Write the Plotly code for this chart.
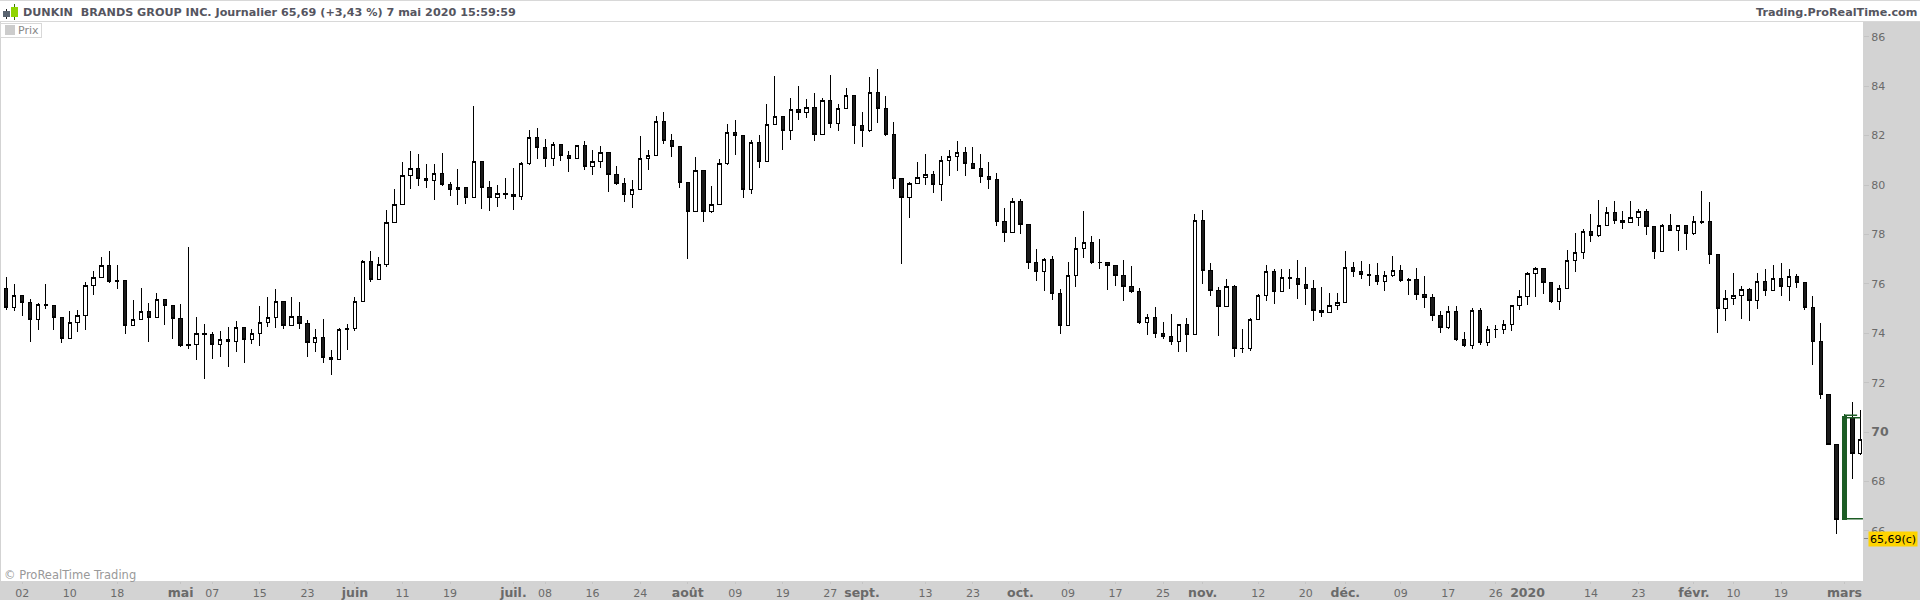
import plotly.graph_objects as go

opens = [75.82,75.05,75.53,75.25,74.56,75.17,75.13,74.64,73.79,74.44,
74.72,75.94,76.26,76.75,76.14,76.14,74.32,74.56,74.89,74.64,
75.37,75.13,74.60,73.55,73.55,74.00,73.95,73.55,73.75,73.67,
74.24,73.75,74.00,74.44,74.64,75.29,74.32,74.68,74.40,73.63,
73.83,73.02,72.94,74.20,74.20,75.29,76.91,76.18,76.79,78.49,
79.22,80.39,80.68,80.27,80.19,80.47,80.03,79.83,79.91,79.50,
80.96,79.91,79.50,79.67,79.62,79.54,80.88,81.93,81.53,81.08,
81.65,81.20,81.08,81.61,80.76,80.96,81.33,80.43,80.07,79.62,
79.83,81.08,81.20,82.58,81.81,81.57,80.11,78.94,80.60,78.94,
79.22,80.88,82.14,82.01,79.83,81.73,80.96,82.46,82.78,82.20,
83.06,82.94,83.14,82.05,83.43,82.49,83.10,83.63,82.41,82.21,
83.75,83.10,82.05,80.27,79.50,80.06,80.31,80.43,80.03,81.00,
81.16,81.32,80.88,80.67,80.35,80.23,78.53,78.09,79.34,78.41,
76.87,76.51,76.99,75.62,74.32,76.34,77.44,77.68,76.88,76.87,
76.75,76.34,75.90,75.70,74.44,74.64,74.00,73.87,73.67,74.36,
73.95,78.57,76.55,75.74,75.09,75.90,73.40,73.39,74.56,75.53,
76.51,75.70,76.26,76.22,75.98,75.82,74.93,74.85,75.13,75.25,
76.67,76.51,76.38,76.34,76.10,76.34,76.54,76.18,76.18,75.57,
75.45,74.72,74.23,74.88,73.75,73.50,74.92,73.63,74.17,74.15,
74.35,75.12,75.49,76.42,76.62,76.06,75.29,75.81,76.95,77.27,
78.12,77.96,78.36,78.89,78.57,78.49,78.69,78.93,78.32,77.31,
78.36,78.16,78.36,78.04,78.53,78.53,77.19,75.01,75.41,75.53,
75.78,75.33,76.10,75.74,76.22,75.90,76.30,76.06,75.05,73.67,
71.53,69.50,66.47,70.60,69.14]

highs = [76.28,75.99,75.53,75.37,75.21,75.99,75.13,74.64,74.90,74.94,
76.06,76.51,77.07,77.33,76.76,76.14,75.34,75.82,75.21,75.61,
75.37,75.13,75.17,77.48,74.64,74.36,74.04,74.08,74.24,74.48,
74.24,74.16,75.09,75.45,75.78,75.29,75.45,75.25,74.52,74.16,
74.56,73.31,74.20,74.36,75.45,76.95,77.32,77.07,78.98,79.83,
80.92,81.37,81.24,80.84,80.84,81.28,80.11,80.64,79.91,83.20,
80.96,80.15,79.99,80.27,80.68,80.92,82.22,82.30,81.85,81.73,
81.65,81.37,81.61,81.77,81.41,81.57,81.33,80.76,80.27,80.19,
81.97,81.41,82.78,82.95,82.05,81.57,80.11,81.12,80.60,79.95,
81.04,82.46,82.62,82.01,81.81,82.01,83.27,84.40,82.78,83.51,
83.99,83.47,83.71,83.51,84.44,83.30,83.91,83.63,82.94,84.36,
84.68,83.59,82.54,80.27,80.11,80.92,81.24,80.55,81.16,81.40,
81.77,81.56,81.56,81.24,80.92,80.47,79.06,79.46,79.42,78.41,
77.40,77.03,77.11,75.78,76.87,77.88,78.94,77.92,77.80,76.87,
76.75,76.95,76.71,75.82,74.77,75.05,74.44,74.77,74.36,74.60,
78.81,78.98,76.83,75.86,76.18,75.94,74.16,74.60,75.57,76.75,
76.59,76.59,76.59,76.95,76.67,76.14,75.86,75.62,75.62,77.32,
76.87,76.91,76.79,76.83,76.50,77.11,76.78,76.22,76.66,76.30,
75.57,74.92,75.12,75.12,74.07,75.04,75.04,74.31,74.35,74.52,
75.16,75.77,76.46,76.70,76.62,76.06,75.97,77.39,78.04,78.24,
78.81,79.38,79.13,79.34,78.93,79.34,79.01,79.01,78.32,78.44,
78.81,78.40,78.40,78.73,79.74,79.30,77.19,75.74,76.43,75.90,
75.82,76.43,76.59,76.75,76.83,76.59,76.38,76.06,75.49,74.40,
71.53,69.50,70.72,71.20,70.88]

lows = [74.95,74.91,74.71,73.66,74.14,74.99,74.14,73.62,73.79,74.06,
74.14,75.56,76.26,76.05,75.80,73.98,74.32,74.56,73.66,74.64,
74.35,73.78,73.46,73.37,72.93,72.16,72.97,73.05,72.64,73.25,
72.81,73.58,73.50,74.26,74.22,74.18,74.32,74.18,73.05,73.25,
72.81,72.32,72.94,73.33,74.10,75.29,76.09,76.18,76.69,78.49,
79.22,79.85,79.98,79.89,79.41,79.98,79.57,79.21,79.25,79.50,
79.04,78.96,79.13,79.45,79.00,79.41,80.83,81.07,80.74,80.79,
80.99,80.54,81.08,80.62,80.42,80.70,79.73,80.02,79.33,79.08,
79.83,80.60,81.20,81.68,81.15,79.89,77.02,78.90,78.52,78.85,
79.22,80.83,81.23,79.49,79.65,80.70,80.96,82.46,81.43,81.83,
82.64,82.72,81.79,82.05,82.32,82.20,83.10,81.67,81.55,82.13,
82.52,81.97,79.85,76.81,78.68,80.06,80.01,79.69,79.36,80.38,
80.58,80.38,80.63,80.09,79.85,78.35,77.68,78.09,78.03,76.61,
76.13,75.72,75.36,73.98,74.32,75.88,77.06,76.82,76.61,75.76,
75.93,75.32,75.64,74.39,73.94,73.82,73.78,73.54,73.25,73.25,
73.95,76.01,75.52,73.90,75.09,73.05,73.21,73.27,74.56,75.32,
75.20,75.70,75.80,75.40,75.16,74.51,74.67,74.85,74.95,75.25,
76.29,76.21,75.93,75.97,75.72,76.26,76.08,75.56,75.35,75.03,
74.50,74.02,74.19,73.69,73.45,73.37,73.54,73.50,73.79,73.95,
74.11,74.96,75.16,75.45,75.60,75.23,74.95,75.81,76.49,77.01,
77.68,77.88,78.36,78.43,78.24,78.49,78.36,77.99,76.99,77.31,
78.12,77.31,77.35,77.96,78.44,76.82,74.00,74.51,75.16,74.59,
74.48,74.97,75.49,75.74,75.49,75.29,75.82,74.93,72.70,71.32,
69.46,65.86,66.47,68.09,69.06]

closes = [75.03,75.53,75.24,74.56,75.17,75.12,74.63,73.78,74.44,74.72,
75.94,76.26,76.75,76.09,76.09,74.31,74.56,74.89,74.63,75.37,
75.12,74.59,73.50,73.50,74.00,73.94,73.55,73.75,73.67,74.24,
73.75,74.00,74.44,74.64,75.29,74.32,74.68,74.40,73.62,73.83,
73.01,72.94,74.16,74.16,75.29,76.91,76.17,76.79,78.49,79.22,
80.39,80.68,80.27,80.19,80.47,80.02,79.83,79.91,79.50,80.96,
79.91,79.50,79.67,79.61,79.54,80.88,81.93,81.53,81.08,81.65,
81.20,81.08,81.61,80.74,80.96,81.33,80.43,80.07,79.62,79.83,
81.08,81.20,82.58,81.81,81.57,80.11,78.94,80.60,78.94,79.22,
80.88,82.14,82.01,79.83,81.73,80.96,82.46,82.78,82.20,83.06,
82.94,83.14,82.05,83.43,82.49,83.10,83.63,82.41,82.21,83.75,
83.10,82.05,80.27,79.50,80.06,80.31,80.43,80.03,81.00,81.16,
81.32,80.88,80.67,80.35,80.23,78.51,78.09,79.34,78.41,76.87,
76.51,76.99,75.60,74.32,76.34,77.44,77.68,76.86,76.86,76.75,
76.34,75.90,75.70,74.44,74.64,74.00,73.86,73.66,74.36,73.95,
78.57,76.55,75.74,75.09,75.90,73.39,73.37,74.56,75.53,76.51,
75.70,76.26,76.22,75.98,75.82,74.93,74.85,75.13,75.25,76.67,
76.51,76.38,76.33,76.10,76.34,76.54,76.14,76.14,75.56,75.45,
74.72,74.23,74.88,73.73,73.50,74.92,73.63,74.15,74.14,74.35,
75.12,75.49,76.42,76.62,76.06,75.27,75.81,76.95,77.27,78.12,
77.96,78.36,78.89,78.57,78.49,78.69,78.93,78.32,77.31,78.36,
78.16,78.36,78.04,78.53,78.49,77.19,75.01,75.41,75.53,75.78,
75.33,76.10,75.74,76.22,75.90,76.30,76.06,75.05,73.67,71.53,
69.50,66.47,70.64,69.14,69.71]

candle_index = list(range(len(opens)))

tick_index = [2,8,14,22,26,32,38,44,50,56,64,68,74,80,86,92,98,104,108,116,122,128,134,140,146,151,158,164,169,176,182,188,192,200,206,213,218,224,232]
tick_names = ["02","10","18","mai","07","15","23","juin","11","19","juil.","08","16","24","août","09","19","27","sept.","13","23","oct.","09","17","25","nov.","12","20","déc.","09","17","26","2020","14","23","févr.","10","19","mars"]
price_ticks = [66,68,70,72,74,76,78,80,82,84,86]
price_names = ["66","68","70","72","74","76","78","80","82","84","86"]

last_price_label = "65,69(c)"
last_price = 65.69
title_left = "DUNKIN\u00a0\u00a0BRANDS GROUP INC. Journalier 65,69 (+3,43 %) 7 mai 2020 15:59:59"
title_right = "Trading.ProRealTime.com"
legend_label = "Prix"
credit = "© ProRealTime Trading"

highlight_index = 232
highlight_levels = [(231.75, 234.0, 70.58), (232.0, 233.6, 70.68), (231.75, 234.33, 66.49)]

W, H = 1920, 600
ML, MR, MT, MB = 1, 57, 22, 19
PW, PH = W - ML - MR, H - MT - MB
BAND = "#d3d3d3"
GREEN = "#1c5c24"
FONT = "DejaVu Sans"


def big_bold(t):
    return f'<span style="font-size:12.5px"><b>{t}</b></span>'


tick_labels = [big_bold(t) if t[0].isalpha() or t == "2020" else t for t in tick_names]
price_labels = [big_bold(t) if t == "70" else t for t in price_names]


def px(x):
    return (x - ML) / PW


def py(y):
    return 1 - (y - MT) / PH


def rect(x0, y0, x1, y1, color):
    return dict(type="rect", xref="paper", yref="paper", x0=px(x0), x1=px(x1), y0=py(y0), y1=py(y1),
                fillcolor=color, line_width=0, layer="above")


def label(x, y, text, size, color, anchor="left", bold=False):
    t = f"<b>{text}</b>" if bold else text
    return dict(x=px(x), y=py(y), xref="paper", yref="paper", text=t, showarrow=False, xanchor=anchor,
                yanchor="middle", font=dict(family=FONT, size=size, color=color))


fig = go.Figure()
fig.add_trace(go.Candlestick(
    x=candle_index, open=opens, high=highs, low=lows, close=closes,
    increasing=dict(line=dict(color="#000000", width=1), fillcolor="#ffffff"),
    decreasing=dict(line=dict(color="#000000", width=1), fillcolor="#1a1a1a"),
    whiskerwidth=0, showlegend=False, hoverinfo="skip",
))
i = highlight_index
fig.add_trace(go.Candlestick(
    x=[i], open=[opens[i]], high=[highs[i]], low=[lows[i]], close=[closes[i]],
    increasing=dict(line=dict(color=GREEN, width=1), fillcolor=GREEN),
    decreasing=dict(line=dict(color=GREEN, width=1), fillcolor=GREEN),
    whiskerwidth=0, showlegend=False, hoverinfo="skip",
))
for x0, x1, level in highlight_levels:
    fig.add_trace(go.Scatter(x=[x0, x1], y=[level, level], mode="lines",
                             line=dict(color=GREEN, width=1.5), showlegend=False, hoverinfo="skip"))

shapes = [
    rect(0, 0, W, 22, "#ffffff"),
    rect(0, 0, W, 1, "#d8d8d8"),
    rect(0, 21, W, 22, "#d8d8d8"),
    rect(0, 23, 42, 38, "#d8d8d8"),
    rect(1, 24, 41, 37, "#ffffff"),
    rect(5, 25, 15, 35, "#cccccc"),
    rect(6, 9, 7, 19, "#222222"),
    rect(3, 11, 10, 17, "#5a6470"),
    rect(14, 4, 15, 20, "#3c7a00"),
    rect(11, 7, 18, 17, "#8fd400"),
    dict(type="line", xref="paper", yref="y", x0=1.0005, x1=1.0027, y0=last_price, y1=last_price,
         line=dict(color="#888888", width=1), layer="above"),
]

annotations = [
    label(21, 12, title_left, 11.2, "#555560", bold=True),
    label(1919, 12, title_right, 11.2, "#555560", anchor="right", bold=True),
    label(16, 30.5, legend_label, 11, "#888888"),
    label(2, 575, credit, 11.5, "#999999"),
    dict(x=px(1893), y=py(539), xref="paper", yref="paper", text=last_price_label, showarrow=False,
         xanchor="center", yanchor="middle", font=dict(family=FONT, size=11, color="#000000"),
         bgcolor="#ffd400", width=48, height=14, borderpad=0),
]

fig.update_layout(
    width=W, height=H, autosize=False,
    margin=dict(l=ML, r=MR, t=MT, b=MB, pad=0),
    paper_bgcolor=BAND, plot_bgcolor="#ffffff",
    showlegend=False, shapes=shapes, annotations=annotations,
    boxgap=0.4, boxmode="overlay",
    font=dict(family=FONT, size=11, color="#6a6a6a"),
    xaxis=dict(range=[-0.67, 234.34], rangeslider=dict(visible=False), tickmode="array",
               tickvals=tick_index, ticktext=tick_labels, ticks="outside", ticklen=2, tickcolor="#c4c4c4",
               tickfont=dict(family=FONT, size=11, color="#6a6a6a"), showgrid=False, zeroline=False, showline=False),
    yaxis=dict(range=[63.97, 86.60], side="right", tickmode="array", tickvals=price_ticks, ticktext=price_labels,
               ticks="outside", ticklen=5, tickcolor="#c4c4c4",
               tickfont=dict(family=FONT, size=11, color="#6a6a6a"), showgrid=False, zeroline=False, showline=False),
)

fig.write_html(
    "out.html",
    config=dict(displayModeBar=False),
    post_script=(
        "document.body.style.margin='0';document.body.style.overflow='hidden';"
        "document.querySelectorAll('.boxlayer path').forEach(function(p){p.style.shapeRendering='crispEdges';});"
    ),
)
